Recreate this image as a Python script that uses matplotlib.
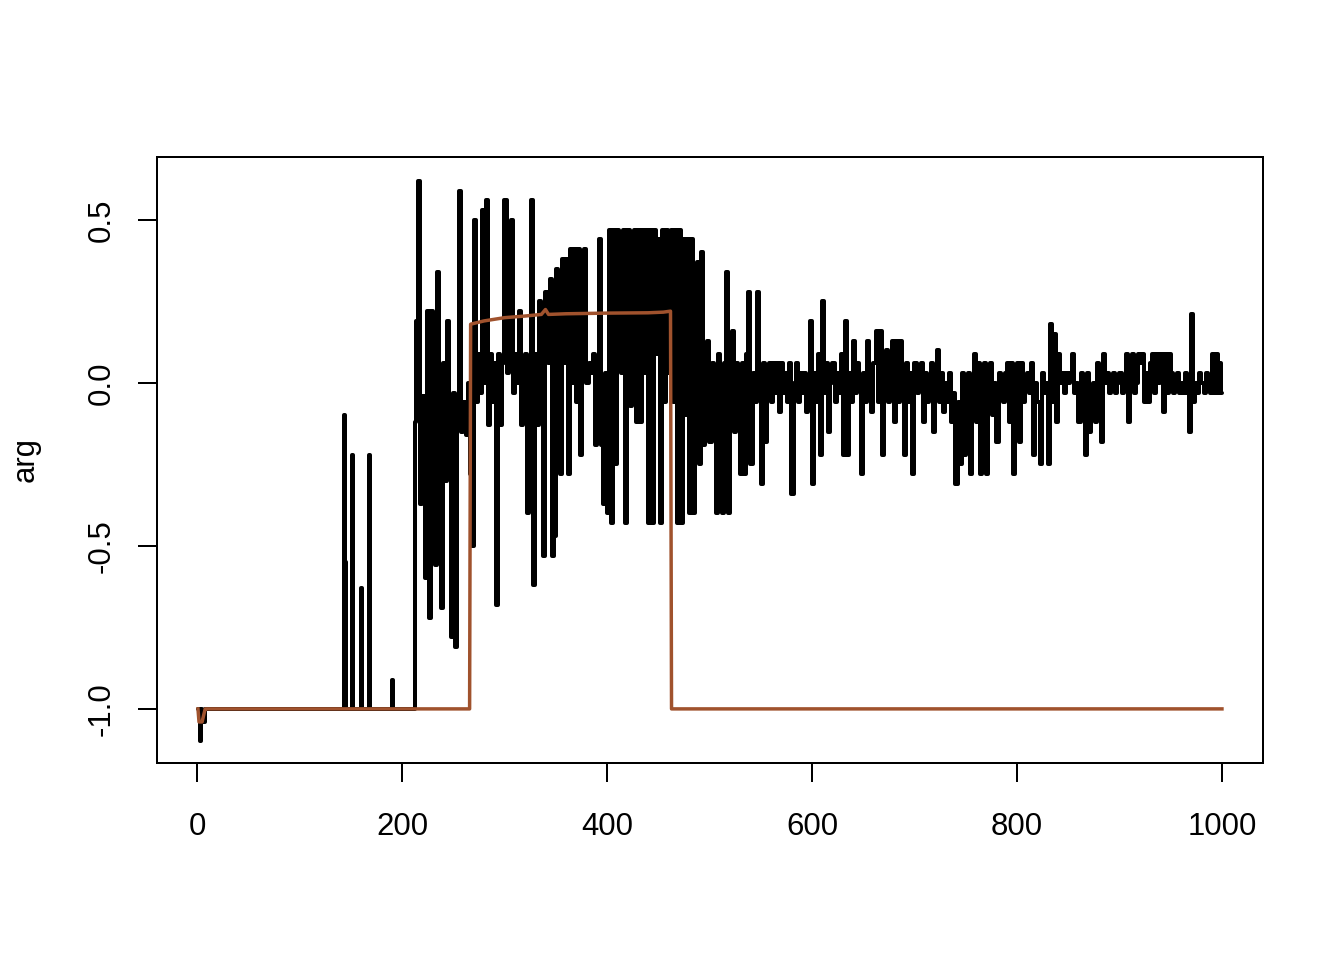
import numpy as np
import matplotlib
matplotlib.use("Agg")
import matplotlib.pyplot as plt

# brown line (running value)
x_brown = [1, 2, 5, 8, 9, 266, 267, 280, 300, 320, 336, 340, 343, 360, 400, 440, 455, 462, 463, 1000]
y_brown = [-1.0, -1.04, -1.04, -1.0, -1.0, -1.0, 0.18, 0.19, 0.20, 0.205, 0.21, 0.225, 0.21, 0.212, 0.214, 0.215, 0.217, 0.22, -1.0, -1.0]

# black series: sparse flat start, then every 2nd step
x_start = [1, 2, 3, 4, 6, 7, 8, 9, 142, 143, 144, 145, 146, 151, 152, 153,
           160, 161, 162, 167, 168, 169, 190, 191, 192, 211, 212]
y_start = [-1.0, -1.0, -1.1, -1.0, -1.04, -1.04, -1.0, -1.0, -1.0, -1.0, -0.1, -0.55, -1.0,
           -1.0, -0.22, -1.0, -1.0, -0.63, -1.0, -1.0, -0.22, -1.0, -1.0, -0.91, -1.0, -1.0, -1.0]

x_noisy = list(range(213, 1001, 2)) + [1000]
y_noisy = [
    -0.12, 0.19, 0.62, -0.37, -0.04, -0.6, 0.22, -0.72, 0.22, -0.09,
    -0.56, 0.34, -0.53, -0.69, 0.06, -0.3, 0.19, -0.06, -0.78, -0.03,
    -0.81, -0.06, 0.59, -0.15, -0.06, -0.16, 0.0, -0.28, -0.5, 0.5,
    -0.06, 0.09, -0.03, 0.53, 0.0, 0.56, -0.13, 0.09, -0.06, 0.06,
    -0.68, 0.09, -0.13, 0.06, 0.56, 0.03, 0.09, 0.5, -0.03, 0.09,
    0.0, 0.22, -0.13, 0.06, 0.09, -0.4, 0.0, 0.56, -0.62, 0.09,
    -0.13, 0.25, -0.03, -0.53, 0.28, 0.06, 0.32, -0.53, -0.47, 0.35,
    0.03, -0.28, 0.38, 0.06, 0.38, -0.28, 0.41, 0.0, 0.41, -0.06,
    0.41, -0.22, 0.06, 0.41, 0.0, 0.06, 0.03, 0.09, -0.19, 0.06,
    0.44, -0.19, -0.37, 0.03, -0.4, 0.47, -0.43, 0.47, -0.25, 0.47,
    0.41, 0.03, 0.47, -0.43, 0.47, -0.07, 0.06, 0.47, -0.12, 0.47,
    -0.12, 0.47, 0.03, 0.47, -0.43, 0.47, -0.43, 0.47, 0.09, 0.44,
    -0.43, 0.47, -0.06, 0.47, 0.03, 0.47, -0.06, 0.47, -0.43, 0.47,
    -0.43, 0.44, -0.1, 0.44, -0.4, 0.44, -0.4, 0.09, 0.37, -0.25,
    0.4, -0.19, 0.06, 0.13, -0.18, 0.06, -0.06, -0.4, 0.09, -0.25,
    -0.4, 0.06, 0.34, -0.4, 0.0, 0.16, -0.15, 0.06, -0.06, -0.28,
    0.06, -0.28, 0.09, 0.28, -0.25, 0.03, -0.06, 0.28, -0.03, -0.31,
    0.06, -0.18, 0.03, 0.06, -0.06, 0.06, -0.03, 0.06, -0.09, 0.06,
    -0.03, 0.03, -0.06, 0.06, -0.34, 0.0, 0.06, -0.06, 0.03, -0.03,
    0.03, -0.09, 0.0, 0.19, -0.31, 0.03, -0.06, 0.09, -0.22, 0.25,
    -0.03, 0.06, -0.15, 0.0, 0.06, -0.06, 0.03, -0.03, 0.09, -0.22,
    0.19, -0.22, 0.03, -0.06, 0.13, -0.03, 0.06, 0.0, -0.28, 0.03,
    -0.06, 0.13, 0.0, -0.09, 0.06, 0.16, -0.06, 0.16, -0.22, 0.03,
    0.1, -0.06, 0.03, 0.13, -0.12, 0.13, -0.06, 0.13, 0.0, -0.22,
    0.06, -0.06, 0.03, -0.28, 0.06, -0.03, 0.0, 0.06, -0.12, 0.03,
    -0.06, 0.0, 0.06, -0.15, 0.03, 0.1, -0.06, 0.03, -0.09, 0.0,
    -0.06, 0.03, -0.12, -0.03, -0.31, -0.06, -0.25, 0.03, -0.22, -0.09,
    0.03, -0.28, -0.03, 0.09, -0.12, 0.06, -0.28, -0.03, 0.06, -0.28,
    -0.06, 0.06, -0.1, 0.0, -0.18, 0.03, 0.0, -0.06, 0.03, 0.06,
    -0.12, 0.06, -0.28, 0.03, 0.06, -0.18, 0.06, -0.06, 0.0, 0.03,
    -0.03, 0.06, -0.22, 0.0, -0.06, -0.25, 0.03, -0.03, 0.0, -0.25,
    0.18, -0.06, 0.15, -0.12, 0.09, 0.0, 0.03, -0.03, 0.03, 0.0,
    0.03, 0.09, -0.03, 0.0, -0.12, 0.03, 0.0, -0.22, 0.03, -0.15,
    -0.03, 0.0, -0.12, 0.06, -0.03, -0.18, 0.09, 0.0, 0.03, -0.03,
    0.0, 0.03, -0.03, 0.0, 0.03, -0.03, 0.0, 0.09, -0.12, 0.0,
    0.09, -0.03, 0.0, 0.09, 0.06, 0.09, -0.06, 0.03, -0.06, 0.06,
    0.09, -0.03, 0.09, 0.0, 0.09, -0.09, 0.09, -0.03, 0.09, 0.03,
    -0.03, 0.0, 0.03, -0.03, 0.0, -0.03, 0.03, -0.03, -0.15, 0.21,
    -0.06, 0.0, -0.03, 0.03, 0.0, -0.03, 0.03, 0.0, -0.03, 0.09,
    -0.03, 0.09, -0.03, 0.06, -0.03,
]

x_black = x_start + x_noisy
y_black = y_start + y_noisy

plt.rcParams['font.family'] = ['Liberation Sans', 'DejaVu Sans']

fig = plt.figure(figsize=(14, 10), dpi=96)
ax = fig.add_axes([0.1168, 0.2052, 0.8229, 0.6313])

ax.plot(x_black, y_black, color='black', lw=3.0, drawstyle='steps-mid',
        solid_joinstyle='round', solid_capstyle='round')
ax.plot(x_brown, y_brown, color='#A0522D', lw=2.6, solid_joinstyle='round')

ax.set_xlim(-39, 1040)
ax.set_ylim(-1.166, 0.693)
ax.set_xticks([0, 200, 400, 600, 800, 1000])
ax.set_yticks([-1.0, -0.5, 0.0, 0.5])
ax.set_yticklabels(['-1.0', '-0.5', '0.0', '0.5'], rotation=90, va='center')
ax.tick_params(axis='both', labelsize=23.3, length=14, width=1.5, direction='out')
ax.tick_params(axis='x', pad=22.5)
ax.tick_params(axis='y', pad=16.5)
ax.set_ylabel('arg', fontsize=23.3, labelpad=34)
for s in ax.spines.values():
    s.set_linewidth(1.5)

fig.savefig('out.png', dpi=96)
